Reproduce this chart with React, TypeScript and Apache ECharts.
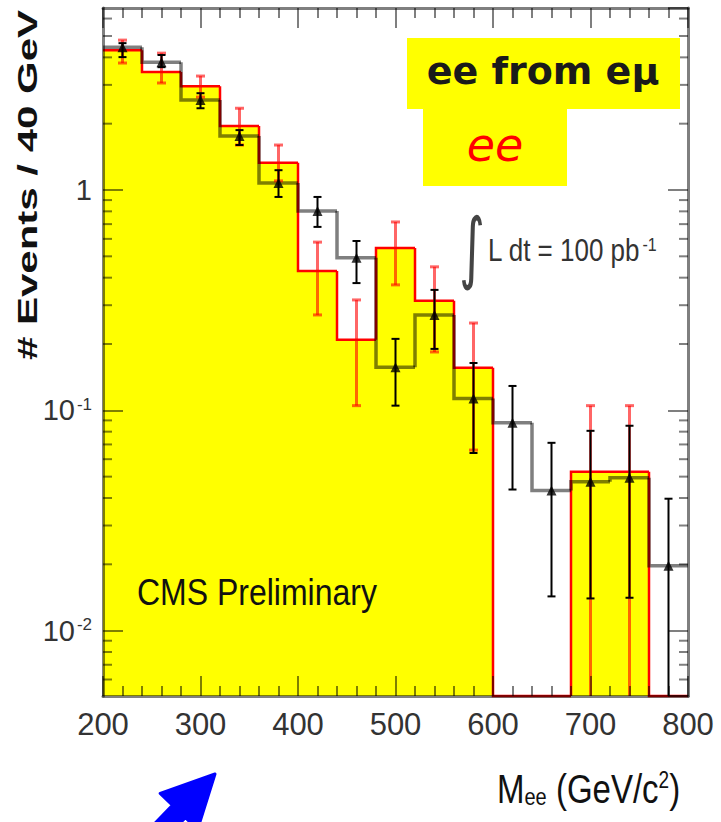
import React, { useEffect, useRef } from 'react';
import * as echarts from 'echarts';

// ---- data ----
const binEdges = [200, 240, 280, 320, 360, 400, 440, 480, 520, 560, 600, 640, 680, 720, 760, 800];
const binCenters = [220, 260, 300, 340, 380, 420, 460, 500, 540, 580, 620, 660, 700, 740, 780];

// "ee" (yellow histogram, red outline, red error bars)
const eeCounts = [4.31, 3.43, 2.96, 1.95, 1.33, 0.429, 0.209, 0.546, 0.314, 0.156, 0, 0, 0.0526, 0.0526, 0];
const eeErrLow = [3.77, 3.06, 2.64, 1.6, 1.1, 0.271, 0.105, 0.371, 0.184, 0.066, null, null, 0, 0, null];
const eeErrHigh = [4.79, 4.18, 3.29, 2.35, 1.6, 0.58, 0.317, 0.716, 0.448, 0.249, null, null, 0.105, 0.105, null];

// "ee from eμ" (black step line, black triangles, black error bars)
const emuCounts = [4.45, 3.8, 2.56, 1.76, 1.076, 0.803, 0.492, 0.157, 0.271, 0.113, 0.0878, 0.0432, 0.0474, 0.0494, 0.0197];
const emuErrLow = [4.01, 3.61, 2.35, 1.6, 0.93, 0.68, 0.378, 0.105, 0.19, 0.064, 0.0437, 0.0143, 0.014, 0.0141, 0];
const emuErrHigh = [4.64, 4.1, 2.75, 1.87, 1.23, 0.93, 0.587, 0.211, 0.352, 0.164, 0.129, 0.0712, 0.0807, 0.0851, 0.0397];

const yMinorTicks = [0.006, 0.007, 0.008, 0.009, 0.02, 0.03, 0.04, 0.05, 0.06, 0.07, 0.08, 0.09, 0.2, 0.3, 0.4, 0.5, 0.6, 0.7, 0.8, 0.9, 2, 3, 4, 5, 6];

const X_MIN = 200;
const X_MAX = 800;
const X_INTERVAL = 100;
const Y_MIN = 0.00505;
const Y_MAX = 6.7;

const FRAME = 'rgba(0,0,0,0.5)';
const LABEL_FONT = '"Liberation Sans Narrow", "Liberation Sans", Arial, sans-serif';

function yLabel(v: number): string {
  const e = Math.log10(v);
  const r = Math.round(e);
  if (Math.abs(e - r) > 1e-6) return '';
  if (r === 0) return '1';
  return '{b|10}{s|' + r + '}';
}

function histRenderer(values: number[], stroke: string, lineWidth: number, fill: string | null) {
  return (params: any, api: any) => {
    const i = params.dataIndex;
    const lo = api.value(0);
    const hi = api.value(1);
    const v = api.value(2);
    const cs = params.coordSys;
    const bottom = cs.y + cs.height;
    const yOf = (val: number) => (val > 0 ? Math.min(api.coord([lo, val])[1], bottom) : bottom);
    const xL = api.coord([lo, 1])[0];
    const xR = api.coord([hi, 1])[0];
    const y = yOf(v);
    const children: any[] = [];
    if (fill && v > 0) {
      children.push({ type: 'rect', shape: { x: xL, y, width: xR - xL, height: bottom - y }, style: { fill } });
    }
    const pts: number[][] = [];
    if (i > 0) pts.push([xL, yOf(values[i - 1])]);
    pts.push([xL, y], [xR, y]);
    if (i === values.length - 1 && fill) pts.push([xR, bottom]);
    children.push({ type: 'polyline', shape: { points: pts }, style: { stroke, lineWidth, fill: 'none', lineJoin: 'miter' } });
    return { type: 'group', children };
  };
}

function errRenderer(stroke: string, lineWidth: number, cap: number) {
  return (params: any, api: any) => {
    const x = api.value(0);
    const lo = api.value(1);
    const hi = api.value(2);
    const cs = params.coordSys;
    const bottom = cs.y + cs.height;
    const pHi = api.coord([x, hi]);
    const px = pHi[0];
    const yHi = pHi[1];
    const yLo = lo > 0 ? api.coord([x, lo])[1] : bottom;
    const style = { stroke, lineWidth };
    const children: any[] = [
      { type: 'line', shape: { x1: px, y1: yHi, x2: px, y2: yLo }, style },
      { type: 'line', shape: { x1: px - cap / 2, y1: yHi, x2: px + cap / 2, y2: yHi }, style },
    ];
    if (lo > 0) children.push({ type: 'line', shape: { x1: px - cap / 2, y1: yLo, x2: px + cap / 2, y2: yLo }, style });
    return { type: 'group', children };
  };
}

function minorTickRenderer(len: number) {
  return (params: any, api: any) => {
    const cs = params.coordSys;
    const y = api.coord([X_MIN, api.value(1)])[1];
    const style = { stroke: FRAME, lineWidth: 2 };
    return {
      type: 'group',
      children: [
        { type: 'line', shape: { x1: cs.x, y1: y, x2: cs.x + len, y2: y }, style },
        { type: 'line', shape: { x1: cs.x + cs.width - len, y1: y, x2: cs.x + cs.width, y2: y }, style },
      ],
    };
  };
}

const histData = (vals: number[]) => vals.map((v, i) => [binEdges[i], binEdges[i + 1], v]);
const errData = (lo: (number | null)[], hi: (number | null)[]) =>
  binCenters.map((c, i) => [c, lo[i], hi[i]]).filter((d) => d[2] !== null);

function xAxisDef(position: 'top' | 'bottom') {
  return {
    type: 'value',
    min: X_MIN,
    max: X_MAX,
    interval: X_INTERVAL,
    position,
    z: 10,
    axisLine: { show: true, onZero: false, lineStyle: { color: FRAME, width: 3 } },
    axisTick: { show: true, inside: true, length: 20, lineStyle: { color: FRAME, width: 2 } },
    minorTick: { show: true, splitNumber: 5, length: 10, lineStyle: { color: FRAME, width: 2 } },
    splitLine: { show: false },
    minorSplitLine: { show: false },
    axisLabel: {
      show: position === 'bottom',
      margin: 13,
      fontSize: 31,
      fontFamily: LABEL_FONT,
      color: '#333',
    },
  };
}

function yAxisDef(position: 'left' | 'right') {
  return {
    type: 'log',
    logBase: 10,
    min: Y_MIN,
    max: Y_MAX,
    position,
    z: 10,
    axisLine: { show: true, onZero: false, lineStyle: { color: FRAME, width: 3 } },
    axisTick: { show: true, inside: true, length: 20, lineStyle: { color: FRAME, width: 2 } },
    splitLine: { show: false },
    axisLabel: {
      show: position === 'left',
      margin: 11,
      fontSize: 29,
      fontFamily: LABEL_FONT,
      color: '#333',
      showMinLabel: false,
      showMaxLabel: false,
      formatter: (v: number) => yLabel(v),
      rich: {
        b: { fontSize: 29, fontFamily: LABEL_FONT, color: '#333' },
        s: { fontSize: 17, fontFamily: LABEL_FONT, color: '#333', verticalAlign: 'top', padding: [0, 0, 12, 2] },
      },
    },
  };
}

// blue arrow outline (decoration)
const arrowPoints = [
  [215, 774],
  [197.6, 829.4],
  [185.4, 817.6],
  [164.6, 839.2],
  [151.6, 826.8],
  [172.4, 805.2],
  [160.2, 793.4],
];

const option: any = {
  animation: false,
  backgroundColor: '#ffffff',
  grid: { left: 103, right: 33, top: 8, bottom: 126, containLabel: false },
  xAxis: [xAxisDef('bottom'), xAxisDef('top')],
  yAxis: [yAxisDef('left'), yAxisDef('right')],
  series: [
    {
      type: 'custom',
      name: 'ee',
      silent: true,
      encode: { x: [0, 1], y: 2 },
      renderItem: histRenderer(eeCounts, '#ff0000', 2.5, '#ffff00'),
      data: histData(eeCounts),
      z: 2,
    },
    {
      type: 'custom',
      name: 'ee from eμ',
      silent: true,
      encode: { x: [0, 1], y: 2 },
      renderItem: histRenderer(emuCounts, 'rgba(0,0,0,0.5)', 3.5, null),
      data: histData(emuCounts),
      z: 3,
    },
    {
      type: 'custom',
      name: 'ee errors',
      silent: true,
      encode: { x: 0, y: [1, 2] },
      renderItem: errRenderer('rgba(255,0,0,0.6)', 3, 9),
      data: errData(eeErrLow, eeErrHigh),
      z: 4,
    },
    {
      type: 'custom',
      name: 'emu errors',
      silent: true,
      encode: { x: 0, y: [1, 2] },
      renderItem: errRenderer('#000000', 2, 8),
      data: errData(emuErrLow, emuErrHigh),
      z: 5,
    },
    {
      type: 'scatter',
      name: 'emu points',
      silent: true,
      symbol: 'triangle',
      symbolSize: 10,
      itemStyle: { color: '#000000' },
      data: binCenters.map((c, i) => [c, emuCounts[i]]),
      z: 6,
    },
    {
      type: 'custom',
      name: 'minor ticks',
      silent: true,
      encode: { x: 0, y: 1 },
      renderItem: minorTickRenderer(9),
      data: yMinorTicks.map((v) => [X_MIN, v]),
      z: 11,
    },
  ],
  graphic: [
    {
      type: 'text',
      x: 28,
      y: 185,
      z: 100,
      rotation: Math.PI / 2,
      scaleX: 1.5,
      style: {
        text: '# Events / 40 GeV',
        font: 'bold 28px "Liberation Sans", Arial, sans-serif',
        fill: '#111',
        align: 'center',
        verticalAlign: 'middle',
      },
    },
    {
      type: 'rect',
      z: 100,
      shape: { x: 407, y: 38, width: 273, height: 71 },
      style: { fill: '#ffff00' },
    },
    {
      type: 'text',
      x: 543,
      y: 71,
      z: 101,
      style: {
        text: 'ee from eμ',
        font: 'bold 38px "DejaVu Sans", sans-serif',
        fill: '#1a1a1a',
        align: 'center',
        verticalAlign: 'middle',
      },
    },
    {
      type: 'rect',
      z: 100,
      shape: { x: 423, y: 109, width: 144, height: 77 },
      style: { fill: '#ffff00' },
    },
    {
      type: 'text',
      x: 495,
      y: 145,
      z: 101,
      style: {
        text: 'ee',
        font: 'italic 46px "DejaVu Sans", sans-serif',
        fill: '#ff0000',
        align: 'center',
        verticalAlign: 'middle',
      },
    },
    {
      type: 'text',
      x: 472,
      y: 246,
      z: 100,
      scaleY: 1.35,
      scaleX: 0.85,
      style: {
        text: '∫',
        font: '58px "DejaVu Sans", sans-serif',
        fill: '#444',
        align: 'center',
        verticalAlign: 'middle',
      },
    },
    {
      type: 'text',
      x: 488,
      y: 250,
      z: 100,
      scaleY: 1.18,
      style: {
        text: '{a|L dt = 100 pb}{s|-1}',
        fill: '#333',
        verticalAlign: 'middle',
        rich: {
          a: { font: '26px "Liberation Sans", Arial, sans-serif', fill: '#333' },
          s: { font: '16px "Liberation Sans", Arial, sans-serif', fill: '#333', verticalAlign: 'top', padding: [0, 0, 10, 2] },
        },
      },
    },
    {
      type: 'text',
      x: 137,
      y: 592,
      z: 100,
      scaleY: 1.17,
      style: {
        text: 'CMS Preliminary',
        font: '32px "Liberation Sans", Arial, sans-serif',
        fill: '#111',
        verticalAlign: 'middle',
      },
    },
    {
      type: 'text',
      x: 497,
      y: 789,
      z: 100,
      scaleY: 1.23,
      style: {
        text: '{m|M}{sub|ee}{m| (GeV/c}{sup|2}{m|)}',
        verticalAlign: 'middle',
        rich: {
          m: { font: '33px "Liberation Sans", Arial, sans-serif', fill: '#111' },
          sub: { font: '20px "Liberation Sans", Arial, sans-serif', fill: '#111', verticalAlign: 'bottom', padding: [10, 0, 0, 0] },
          sup: { font: '19px "Liberation Sans", Arial, sans-serif', fill: '#111', verticalAlign: 'top', padding: [0, 0, 10, 0] },
        },
      },
    },
    {
      type: 'polygon',
      z: 100,
      shape: { points: arrowPoints },
      style: { fill: '#0000ff', stroke: '#0000ff', lineWidth: 3, lineJoin: 'round' },
    },
  ],
};

export default function App() {
  const ref = useRef<HTMLDivElement>(null);
  useEffect(() => {
    if (!ref.current) return;
    const chart = echarts.init(ref.current, null, { renderer: 'svg' });
    chart.setOption(option);
    return () => chart.dispose();
  }, []);
  return (
    <div
      ref={ref}
      style={{ position: 'absolute', left: 0, top: 0, width: 721, height: 822, background: '#ffffff' }}
    />
  );
}
